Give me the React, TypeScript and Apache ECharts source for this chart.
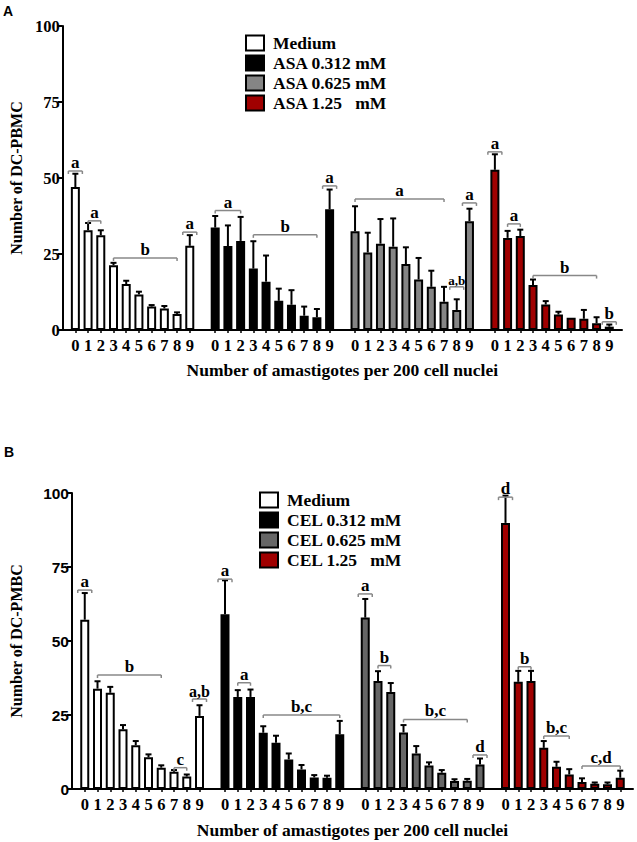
import React, { useEffect, useRef } from "react";
import * as echarts from "echarts";

const digits = ["0", "1", "2", "3", "4", "5", "6", "7", "8", "9"];
const categories = ["", ...digits, "", ...digits, "", ...digits, "", ...digits, ""];

// Panel A (ASA)
const aNames = ["Medium", "ASA 0.312 mM", "ASA 0.625 mM", "ASA 1.25\u00a0\u00a0\u00a0mM"];
const aMedium = [47.0, 32.8, 31.2, 21.3, 15.1, 11.7, 7.7, 7.1, 5.3, 27.7];
const aMediumErr = [51.4, 35.2, 32.8, 22.1, 16.2, 12.6, 8.2, 7.9, 5.8, 31.2];
const aLow = [33.7, 27.6, 29.3, 20.2, 15.9, 9.6, 8.3, 4.7, 4.2, 39.7];
const aLowErr = [37.5, 34.4, 37.2, 29.2, 24.5, 13.6, 13.1, 7.7, 6.9, 46.2];
const aMid = [32.5, 25.5, 28.4, 27.4, 21.7, 16.6, 14.2, 9.3, 6.6, 35.8];
const aMidErr = [40.7, 32.0, 36.5, 36.7, 27.2, 23.7, 19.5, 14.2, 10.1, 39.9];
const aHigh = [52.7, 30.3, 30.9, 14.8, 8.4, 5.1, 4.0, 3.7, 2.2, 1.1];
const aHighErr = [57.8, 32.6, 33.0, 16.6, 9.5, 6.0, 4.0, 6.6, 4.2, 1.8];
// [group, fromBar, toBar, y, label, fontSize]
const aBrackets: [number, number, number, number, string, number][] = [
  [0, 0, 0, 52.3, "a", 17], [0, 1, 2, 35.9, "a", 17], [0, 3, 8, 23.7, "b", 17], [0, 9, 9, 32.2, "a", 17],
  [1, 0, 2, 39.3, "a", 17], [1, 3, 8, 31.3, "b", 17], [1, 9, 9, 47.4, "a", 17],
  [2, 0, 7, 43.1, "a", 17], [2, 8, 8, 14.2, "a,b", 13], [2, 9, 9, 41.8, "a", 17],
  [3, 0, 0, 58.6, "a", 17], [3, 1, 2, 34.9, "a", 17], [3, 3, 8, 17.9, "b", 17], [3, 9, 9, 2.7, "b", 17],
];

// Panel B (CEL)
const bNames = ["Medium", "CEL 0.312 mM", "CEL 0.625 mM", "CEL 1.25\u00a0\u00a0\u00a0mM"];
const bMedium = [57.2, 33.9, 32.5, 20.2, 14.8, 10.7, 7.2, 5.8, 4.2, 24.7];
const bMediumErr = [66.2, 36.4, 34.5, 21.6, 16.2, 11.7, 8.0, 6.4, 4.9, 28.3];
const bLow = [59.0, 31.1, 31.1, 19.0, 15.6, 10.0, 6.6, 3.9, 3.8, 18.5];
const bLowErr = [70.5, 33.4, 33.6, 21.2, 18.0, 12.0, 8.1, 4.7, 4.5, 23.0];
const bMid = [57.9, 36.5, 32.8, 19.1, 12.0, 7.9, 5.5, 2.7, 2.8, 8.3];
const bMidErr = [64.2, 39.8, 35.8, 21.6, 14.5, 9.0, 6.4, 3.3, 3.4, 10.3];
const bHigh = [89.9, 36.2, 36.5, 13.9, 7.5, 4.9, 2.4, 1.8, 1.6, 3.8];
const bHighErr = [99.1, 39.9, 39.9, 16.2, 9.2, 6.7, 3.6, 2.2, 2.2, 6.2];
const bBrackets: [number, number, number, number, string, number][] = [
  [0, 0, 0, 67.2, "a", 17], [0, 1, 6, 38.5, "b", 17], [0, 7, 8, 7.2, "c", 17], [0, 9, 9, 30.4, "a,b", 16],
  [1, 0, 0, 70.9, "a", 17], [1, 1, 2, 35.9, "a", 17], [1, 3, 9, 25.0, "b,c", 17],
  [2, 0, 0, 65.9, "a", 17], [2, 1, 2, 41.7, "b", 17], [2, 3, 8, 23.5, "b,c", 17], [2, 9, 9, 11.5, "d", 17],
  [3, 0, 0, 98.6, "d", 17], [3, 1, 2, 41.3, "b", 17], [3, 3, 5, 17.9, "b,c", 17], [3, 6, 9, 7.8, "c,d", 17],
];

const yTicks = [0, 25, 50, 75, 100];

const SERIF = "'Liberation Serif', 'Times New Roman', serif";
const SANS = "'Liberation Sans', Arial, sans-serif";

const pos = (g: number, i: number) => 1 + g * 11 + i;

function place(g: number, vals: number[]) {
  const arr: (number | null)[] = categories.map(() => null);
  vals.forEach((v, i) => (arr[pos(g, i)] = v));
  return arr;
}

function barSeries(name: string, g: number, vals: number[], color: string, axis: number) {
  return {
    type: "bar",
    name,
    xAxisIndex: axis,
    yAxisIndex: axis,
    data: place(g, vals),
    barWidth: 9,
    barGap: "-100%",
    itemStyle: { color, borderColor: "#000", borderWidth: 2 },
    z: 2,
  };
}

function errSeries(axis: number, groups: [number[], number[]][]) {
  const data: number[][] = [];
  groups.forEach(([m, e], g) => m.forEach((v, i) => data.push([pos(g, i), v, e[i]])));
  return {
    type: "custom",
    xAxisIndex: axis,
    yAxisIndex: axis,
    z: 3,
    silent: true,
    data,
    renderItem: (params: any, api: any) => {
      const x = api.value(0);
      const m = api.value(1);
      const e = api.value(2);
      if (e <= m + 0.05) return { type: "group", children: [] };
      const p1 = api.coord([x, m]);
      const p2 = api.coord([x, e]);
      const st = { stroke: "#000", lineWidth: 2 };
      return {
        type: "group",
        children: [
          { type: "line", shape: { x1: p1[0], y1: p1[1], x2: p2[0], y2: p2[1] }, style: st },
          { type: "line", shape: { x1: p2[0] - 3, y1: p2[1], x2: p2[0] + 3, y2: p2[1] }, style: st },
        ],
      };
    },
  };
}

function bracketSeries(axis: number, br: [number, number, number, number, string, number][]) {
  return {
    type: "custom",
    xAxisIndex: axis,
    yAxisIndex: axis,
    z: 4,
    silent: true,
    data: br.map((b) => [pos(b[0], b[1]), pos(b[0], b[2]), b[3]]),
    renderItem: (params: any, api: any) => {
      const b = br[params.dataIndex];
      const s = api.coord([api.value(0), api.value(2)]);
      const e = api.coord([api.value(1), api.value(2)]);
      const pad = b[1] === b[2] ? 7 : 0;
      const x1 = s[0] - pad;
      const x2 = e[0] + pad;
      const y = s[1];
      const st = { stroke: "#888", lineWidth: 1.5 };
      return {
        type: "group",
        children: [
          { type: "line", shape: { x1, y1: y, x2, y2: y }, style: st },
          { type: "line", shape: { x1, y1: y, x2: x1, y2: y + 3 }, style: st },
          { type: "line", shape: { x1: x2, y1: y, x2, y2: y + 3 }, style: st },
          {
            type: "text",
            x: (x1 + x2) / 2,
            y: y,
            style: {
              text: b[4],
              fill: "#000",
              font: `bold ${b[5]}px ${SERIF}`,
              align: "center",
              verticalAlign: "bottom",
            },
          },
        ],
      };
    },
  };
}

function xAxis(grid: number) {
  return {
    type: "category",
    gridIndex: grid,
    data: categories,
    boundaryGap: false,
    axisLine: { show: true, lineStyle: { color: "#000", width: 2 } },
    axisTick: {
      show: true,
      length: 3,
      interval: (index: number, value: string) => value !== "",
      lineStyle: { color: "#000", width: 1.5 },
    },
    axisLabel: { interval: 0, color: "#000", fontFamily: SERIF, fontWeight: "bold", fontSize: 16.5, margin: 7 },
    name: "Number of amastigotes per 200 cell nuclei",
    nameLocation: "middle",
    nameGap: grid === 0 ? 31 : 32,
    nameTextStyle: { color: "#000", fontFamily: SERIF, fontWeight: "bold", fontSize: 17.5, verticalAlign: "top" },
  };
}

function yAxis(grid: number, name: string, labelFont: string, nameGap: number) {
  return {
    type: "value",
    gridIndex: grid,
    min: yTicks[0],
    max: yTicks[yTicks.length - 1],
    interval: 25,
    axisLine: { show: true, lineStyle: { color: "#000", width: 2 } },
    axisTick: { show: true, length: 5, lineStyle: { color: "#000", width: 2 } },
    splitLine: { show: false },
    axisLabel: { color: "#000", fontFamily: labelFont, fontWeight: "bold", fontSize: grid === 0 ? 16.5 : 15.5, margin: 3 },
    name,
    nameLocation: "middle",
    nameRotate: 90,
    nameGap,
    nameTextStyle: { color: "#000", fontFamily: SERIF, fontWeight: "bold", fontSize: 16 },
  };
}

function legend(left: number, top: number, names: string[]) {
  return {
    orient: "vertical",
    left,
    top,
    data: names,
    icon: "rect",
    itemWidth: 18,
    itemHeight: 15,
    itemGap: 2,
    selectedMode: false,
    textStyle: { color: "#000", fontFamily: SERIF, fontWeight: "bold", fontSize: 17.5, padding: [0, 0, 0, 4] },
  };
}

export default function App() {
  const ref = useRef<HTMLDivElement>(null);
  useEffect(() => {
    if (!ref.current) return;
    const chart = echarts.init(ref.current, undefined, { renderer: "svg" });
    const colorsA = ["#ffffff", "#000000", "#858585", "#a00000"];
    const colorsB = ["#ffffff", "#000000", "#666666", "#a00000"];
    const aVals = [aMedium, aLow, aMid, aHigh];
    const bVals = [bMedium, bLow, bMid, bHigh];
    chart.setOption({
      animation: false,
      backgroundColor: "#fff",
      grid: [
        { left: 52, top: 26, width: 570, height: 304 },
        { left: 62, top: 493, width: 571, height: 296 },
      ],
      xAxis: [xAxis(0), xAxis(1)],
      yAxis: [yAxis(0, "Number of DC-PBMC", SERIF, 38), yAxis(1, "Number of DC-PMBC", SANS, 48)],
      legend: [legend(240, 29, aNames), legend(254, 486, bNames)],
      graphic: [
        { type: "text", left: 3, top: 4, style: { text: "A", fill: "#000", font: `bold 14px ${SANS}` } },
        { type: "text", left: 4, top: 445, style: { text: "B", fill: "#000", font: `bold 14px ${SANS}` } },
      ],
      series: [
        ...aVals.map((v, g) => barSeries(aNames[g], g, v, colorsA[g], 0)),
        errSeries(0, [[aMedium, aMediumErr], [aLow, aLowErr], [aMid, aMidErr], [aHigh, aHighErr]]),
        bracketSeries(0, aBrackets),
        ...bVals.map((v, g) => barSeries(bNames[g], g, v, colorsB[g], 1)),
        errSeries(1, [[bMedium, bMediumErr], [bLow, bLowErr], [bMid, bMidErr], [bHigh, bHighErr]]),
        bracketSeries(1, bBrackets),
      ],
    });
    return () => chart.dispose();
  }, []);
  return (
    <div
      ref={ref}
      style={{ position: "absolute", left: 0, top: 0, width: 637, height: 842, background: "#fff" }}
    />
  );
}
